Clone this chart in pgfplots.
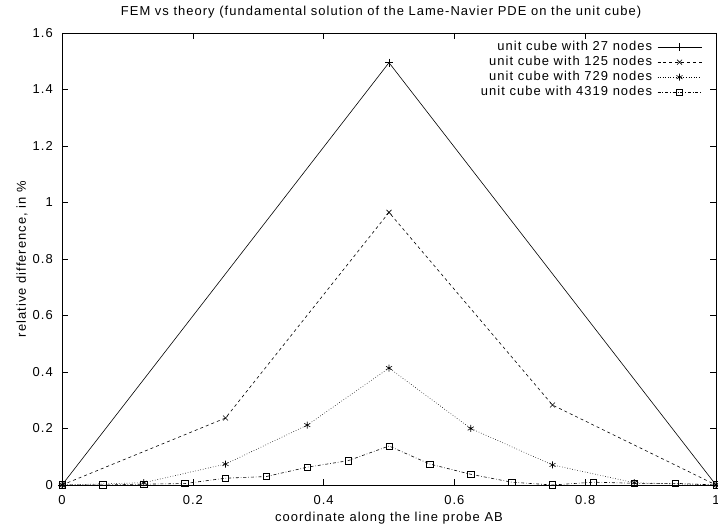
\documentclass[border=0pt]{standalone}
\usepackage{fontspec}
\setmainfont{Liberation Sans}[LetterSpace=8]
\usepackage{pgfplots}
\pgfplotsset{compat=1.18}
\begin{document}
\fontsize{13}{15}\selectfont
\begin{tikzpicture}[x=1bp,y=1bp]
\path[use as bounding box] (0,0) rectangle (718,526);
\begin{axis}[
  at={(62bp,41bp)}, anchor=origin,
  scale only axis, width=654bp, height=452bp,
  xmin=0, xmax=1, ymin=0, ymax=1.6,
  xtick={0,0.2,...,1}, ytick={0,0.2,...,1.6},
  tick align=inside, major tick length=6bp,
  axis line style={line width=0.6pt},
  every tick/.style={black, line width=0.6pt},
  /pgf/number format/assume math mode=true,
  tick label style={font=\fontsize{13}{15}\selectfont, inner sep=0pt},
  yticklabel style={anchor=east, xshift=-9bp},
  xticklabel style={anchor=center, yshift=-15bp},
  title={FEM vs theory (fundamental solution of the Lame-Navier PDE on the unit cube)},
  title style={font=\fontsize{13}{15}\selectfont, at={(axis description cs:0.5,1)}, anchor=center, yshift=15bp, xshift=-8bp},
  xlabel={coordinate along the line probe AB},
  ylabel={relative difference, in \%},
  label style={font=\fontsize{13}{15}\selectfont},
  every axis x label/.style={at={(axis description cs:0.5,0)}, anchor=center, yshift=-33bp},
  every axis y label/.style={at={(axis description cs:0,0.5)}, anchor=center, rotate=90, yshift=40bp},
  legend plot pos=right,
  legend cell align=right,
  legend image code/.code={\draw[mark repeat=2,mark phase=2,#1] plot coordinates {(0bp,0bp) (22bp,0bp) (44bp,0bp)};},
  legend style={draw=none, fill=none, inner sep=0pt, at={(1,1)}, anchor=north east, xshift=-14bp, yshift=-8bp,
    font=\fontsize{13}{15}\selectfont, nodes={inner sep=0pt, text height=9bp, text depth=3bp}, row sep=3bp, column sep=5bp},
  every axis plot/.append style={black, line width=0.6pt},
]
\addplot[mark=+, mark size=4bp] coordinates {(0,0) (0.5,1.495) (1,0)};
\addlegendentry{unit cube with 27 nodes}
\addplot[dashed, mark=x, mark size=3.5bp, mark options={solid}] coordinates {(0,0) (0.25,0.237) (0.5,0.965) (0.75,0.283) (1,0)};
\addlegendentry{unit cube with 125 nodes}
\addplot[dotted, mark=asterisk, mark size=3.5bp, mark options={solid}] coordinates {(0,0) (0.125,0.008) (0.25,0.074) (0.375,0.212) (0.5,0.414) (0.625,0.2) (0.75,0.071) (0.875,0.008) (1,0)};
\addlegendentry{unit cube with 729 nodes}
\addplot[dash dot, mark=square, mark size=3.2bp, mark options={solid}] coordinates {(0,0) (0.0625,0) (0.125,0.003) (0.1875,0.005) (0.25,0.024) (0.3125,0.03) (0.375,0.063) (0.4375,0.086) (0.5,0.138) (0.5625,0.074) (0.625,0.038) (0.6875,0.01) (0.75,0) (0.8125,0.01) (0.875,0.006) (0.9375,0.006) (1,0)};
\addlegendentry{unit cube with 4319 nodes}
\end{axis}
\end{tikzpicture}
\end{document}
